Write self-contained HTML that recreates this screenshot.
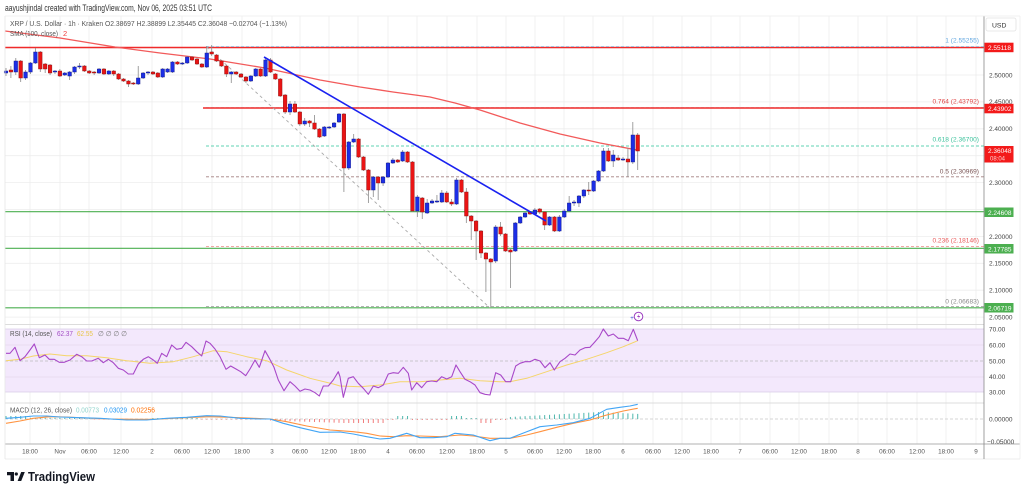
<!DOCTYPE html>
<html><head><meta charset="utf-8"><style>
html,body{margin:0;padding:0;background:#fff;}
svg{display:block;font-family:"Liberation Sans",sans-serif;}
</style></head><body>
<svg id="c" width="1024" height="493" viewBox="0 0 1024 493" xmlns="http://www.w3.org/2000/svg">
<rect x="0" y="0" width="1024" height="493" fill="#fff"/>
<g id="grid"></g>
<rect x="5" y="329" width="979" height="63" fill="#f3e8fc"/>
<line x1="5" y1="329" x2="984" y2="329" stroke="#d9cbe6" stroke-width="0.8"/>
<line x1="5" y1="392" x2="984" y2="392" stroke="#d9cbe6" stroke-width="0.8"/>
<line x1="5" y1="345" x2="984" y2="345" stroke="#e4d8ee" stroke-width="0.7"/>
<line x1="5" y1="377" x2="984" y2="377" stroke="#e4d8ee" stroke-width="0.7"/>
<line x1="5" y1="361" x2="984" y2="361" stroke="#bbb" stroke-width="0.8" stroke-dasharray="3,2"/>
<line x1="5" y1="419" x2="984" y2="419" stroke="#c8c8c8" stroke-width="0.8" stroke-dasharray="3,2"/>
<g id="levels"></g>
<g id="series"></g>
<!-- frame / separators -->
<line x1="5" y1="324.5" x2="984" y2="324.5" stroke="#dcdcdc" stroke-width="1"/>
<line x1="5" y1="403" x2="984" y2="403" stroke="#dcdcdc" stroke-width="1"/>
<line x1="5" y1="444" x2="1020" y2="444" stroke="#999" stroke-width="0.8"/>
<line x1="5" y1="459" x2="1020" y2="459" stroke="#e6e6e6" stroke-width="0.8"/>
<line x1="984" y1="16" x2="984" y2="459" stroke="#888" stroke-width="0.8"/>
<line x1="5" y1="16" x2="5" y2="459" stroke="#e6e6e6" stroke-width="0.8"/>
<line x1="5" y1="16" x2="1020" y2="16" stroke="#eee" stroke-width="0.8"/>
<line x1="1020" y1="16" x2="1020" y2="459" stroke="#eee" stroke-width="0.8"/>

<!-- header -->
<text x="5" y="10.8" font-size="9" fill="#333" textLength="207" lengthAdjust="spacingAndGlyphs">aayushjindal created with TradingView.com, Nov 06, 2025 03:51 UTC</text>
<text x="10" y="26" font-size="7.5" fill="#555" textLength="277" lengthAdjust="spacingAndGlyphs">XRP / U.S. Dollar · 1h · Kraken  O2.38697  H2.38899  L2.35445  C2.36048  −0.02704 (−1.13%)</text>
<text x="10" y="36" font-size="7.5" fill="#555" textLength="48" lengthAdjust="spacingAndGlyphs">SMA (100, close)</text>
<text x="63" y="36" font-size="7.5" fill="#f04040">2</text>

<!-- fib labels -->
<g font-size="6.6" text-anchor="end">
<text x="979" y="42.5" fill="#64a8e0">1 (2.55255)</text>
<text x="979" y="103.5" fill="#e04848">0.764 (2.43792)</text>
<text x="979" y="141.5" fill="#3cc29c">0.618 (2.36700)</text>
<text x="979" y="173.5" fill="#7a5555">0.5 (2.30969)</text>
<text x="979" y="242.5" fill="#e85a5a">0.236 (2.18146)</text>
<text x="979" y="303.5" fill="#8a8a8a">0 (2.06683)</text>
</g>

<!-- right axis labels -->
<g font-size="6.5" fill="#444">
<text x="989" y="77.3">2.50000</text>
<text x="989" y="104.2">2.45000</text>
<text x="989" y="131.1">2.40000</text>
<text x="989" y="185">2.30000</text>
<text x="989" y="238.8">2.20000</text>
<text x="989" y="265.7">2.15000</text>
<text x="989" y="292.6">2.10000</text>
<text x="989" y="319.5">2.05000</text>
<text x="989" y="331.5">70.00</text>
<text x="989" y="347.4">60.00</text>
<text x="989" y="363.3">50.00</text>
<text x="989" y="379">40.00</text>
<text x="989" y="394.5">30.00</text>
<text x="989" y="421.3">0.00000</text>
<text x="987" y="444">−0.05000</text>
</g>
<rect x="986" y="18" width="30" height="13" fill="#fff" stroke="#e2e2e2" stroke-width="0.8" rx="2"/>
<text x="992" y="27.3" font-size="6.8" fill="#333">USD</text>
<g font-size="6.5" fill="#fff">
<rect x="984.5" y="42.7" width="29" height="9.5" fill="#f31a1a"/>
<text x="988" y="50">2.55118</text>
<rect x="984.5" y="103.8" width="29" height="9.5" fill="#f31a1a"/>
<text x="988" y="111">2.43902</text>
<rect x="984.5" y="146" width="29" height="16.5" fill="#f31a1a"/>
<text x="988" y="153">2.36048</text>
<text x="990" y="160.5" font-size="6" fill="#ffd0d0">08:04</text>
<rect x="984.5" y="207.5" width="29" height="9.5" fill="#4caf50"/>
<text x="988" y="214.8">2.24608</text>
<rect x="984.5" y="244" width="29" height="9.5" fill="#4caf50"/>
<text x="988" y="251.3">2.17785</text>
<rect x="984.5" y="303" width="29" height="9.5" fill="#4caf50"/>
<text x="988" y="310.3">2.06719</text>
</g>

<!-- indicator legends -->
<g font-size="7">
<text x="10" y="336" fill="#555" textLength="42" lengthAdjust="spacingAndGlyphs">RSI (14, close)</text>
<text x="57" y="336" fill="#a24bc4" textLength="16" lengthAdjust="spacingAndGlyphs">62.37</text>
<text x="77" y="336" fill="#e8c547" textLength="16" lengthAdjust="spacingAndGlyphs">62.55</text>
<text x="98" y="336" fill="#777" textLength="29" lengthAdjust="spacingAndGlyphs">∅ ∅ ∅ ∅</text>
<text x="10" y="412.5" fill="#555" textLength="62" lengthAdjust="spacingAndGlyphs">MACD (12, 26, close)</text>
<text x="76" y="412.5" fill="#8fd3cb" textLength="23" lengthAdjust="spacingAndGlyphs">0.00773</text>
<text x="104" y="412.5" fill="#2196f3" textLength="23" lengthAdjust="spacingAndGlyphs">0.03029</text>
<text x="131" y="412.5" fill="#ff6d00" textLength="24" lengthAdjust="spacingAndGlyphs">0.02256</text>
</g>

<!-- time axis -->
<g font-size="6.3" fill="#555" text-anchor="middle">
<text x="30" y="453.3">18:00</text><text x="60" y="453.3">Nov</text><text x="89" y="453.3">06:00</text><text x="121" y="453.3">12:00</text>
<text x="152" y="453.3">2</text><text x="182" y="453.3">06:00</text><text x="212" y="453.3">12:00</text><text x="242" y="453.3">18:00</text>
<text x="272" y="453.3">3</text><text x="300" y="453.3">06:00</text><text x="329" y="453.3">12:00</text><text x="358" y="453.3">18:00</text>
<text x="388" y="453.3">4</text><text x="417" y="453.3">06:00</text><text x="447" y="453.3">12:00</text><text x="477" y="453.3">18:00</text>
<text x="506" y="453.3">5</text><text x="535" y="453.3">06:00</text><text x="564" y="453.3">12:00</text><text x="593" y="453.3">18:00</text>
<text x="623" y="453.3">6</text><text x="653" y="453.3">06:00</text><text x="682" y="453.3">12:00</text><text x="711" y="453.3">18:00</text>
<text x="740" y="453.3">7</text><text x="770" y="453.3">06:00</text><text x="799" y="453.3">12:00</text><text x="829" y="453.3">18:00</text>
<text x="858" y="453.3">8</text><text x="887" y="453.3">06:00</text><text x="917" y="453.3">12:00</text><text x="946" y="453.3">18:00</text>
<text x="976" y="453.3">9</text>
</g>

<!-- alert icon -->
<circle cx="638.5" cy="316.5" r="4.3" fill="#fff" stroke="#9c3fc0" stroke-width="1"/>
<path d="M639.5,313.5 L637,317 L639,317 L637.5,319.8 L640.3,316 L638.4,316 Z" fill="#9c3fc0"/>
<text x="632" y="320" font-size="6" fill="#3f51d8" text-anchor="middle">+</text>

<!-- TradingView logo -->
<path d="M7,472 H14 V481 H10.5 V475.2 H7 Z" fill="#131722"/>
<circle cx="16.3" cy="474" r="1.6" fill="#131722"/>
<path d="M17.6,481 L21.2,472 H24.8 L21.2,481 Z" fill="#131722"/>
<text x="28" y="481" font-size="12.5" font-weight="bold" fill="#131722" textLength="67" lengthAdjust="spacingAndGlyphs">TradingView</text>
</svg>
<script>
(function(){
var NS='http://www.w3.org/2000/svg';
function el(tag,a,p){var e=document.createElementNS(NS,tag);for(var k in a)e.setAttribute(k,a[k]);p.appendChild(e);return e;}
var grid=document.getElementById('grid'),lev=document.getElementById('levels'),ser=document.getElementById('series');
var vx=[30,60,89,121,152,182,212,242,272,300,329,358,388,417,447,477,506,535,564,593,623,653,682,711,740,770,799,829,858,887,917,946,976];
vx.forEach(function(x){el('line',{x1:x,y1:16,x2:x,y2:444,stroke:'#ededed','stroke-width':0.8},grid);});
function py(p){return 75+(2.5-p)*538;}
[2.55,2.5,2.45,2.4,2.35,2.3,2.25,2.2,2.15,2.1,2.05].forEach(function(p){var y=py(p);el('line',{x1:5,y1:y,x2:984,y2:y,stroke:'#ededed','stroke-width':0.8},grid);});
function hl(y,x1,c,w,d){var a={x1:x1,y1:y,x2:984,y2:y,stroke:c,'stroke-width':w};if(d)a['stroke-dasharray']=d;el('line',a,lev);}
hl(47.5,5,'#f02a2a',1.4);
hl(108,203,'#f02a2a',1.4);
hl(211.7,5,'#4caf50',1.1);
hl(248.3,5,'#4caf50',1.1);
hl(307.8,5,'#4caf50',1.1);
hl(46.6,206,'#9ab8d8',0.9,'3,2');
hl(107.4,206,'#e86060',0.9,'3,2');
hl(146,206,'#5fd3b3',0.9,'3,2');
hl(176.8,206,'#a48080',0.9,'3,2');
hl(246.5,206,'#f2a6a6',0.9,'3,2');
hl(306.6,206,'#a8a8a8',0.9,'3,2');
el('line',{x1:207,y1:47,x2:490,y2:308,stroke:'#aaa','stroke-width':0.9,'stroke-dasharray':'3,3'},lev);
function pl(pts,attrs,p){var a={points:pts.map(function(q){return q[0].toFixed(1)+','+q[1].toFixed(1);}).join(' '),fill:'none','stroke-linejoin':'round'};for(var k in attrs)a[k]=attrs[k];el('polyline',a,p);}
pl([[5,31],[60,38],[115,47],[160,53],[210,59],[265,68],[320,80],[360,87],[393,92],[430,97],[455,103],[480,110],[520,123],[560,134],[600,143],[637,150]],{stroke:'#f25a5a','stroke-width':1.3},ser);
var C=[
['b',71,73,68,76],['r',70,72,66,78],['b',61,72,58,75],['r',61,78,60,82],['b',72,78,70,80],['b',63,72,62,74],['b',52,63,48,64],['r',52,69,51,72],['r',64,69,63,73],['r',65,73,64,75],
['b',71,72,70,74],['r',71,76,69,77],['b',73,75,72,76],['b',72,76,71,80],['b',67,72,66,74],['b',66,67,63,69],['r',66,71,65,72],['r',71,73,70,74],['r',72,73,71,75],['b',69,73,68,74],
['r',69,74,68,75],['b',71,74,70,75],['r',71,74,70,76],['r',74,79,73,80],['r',79,81,78,82],['r',81,84,80,87],['r',83,84,82,85],['b',78,84,66,85],['b',73,78,72,79],['b',72,73,71,75],
['r',72,74,71,75],['r',73,77,72,78],['b',69,77,68,78],['b',69,72,68,73],['b',62,72,61,73],['r',62,64,61,65],['b',63,64,62,65],['b',57,63,56,64],['r',57,60,56,61],['r',59,64,58,65],
['r',64,67,63,68],['b',53,67,46,68],['r',52,54,45,56],['r',55,61,54,62],['r',61,66,60,67],['r',66,74,65,77],['b',72,74,71,83],['r',72,74,71,75],['r',74,77,73,78],['r',77,81,76,83],
['b',76,81,75,82],['b',69,76,68,77],['r',69,76,68,77],['b',60,76,58,77],['r',60,72,58,73],['r',74,79,73,80],['r',79,96,78,97],['r',95,112,94,114],['b',104,112,101,115],['r',104,112,101,113],
['r',112,124,111,126],['b',121,124,118,126],['r',121,123,120,127],['r',123,129,115,130],['r',129,137,128,138],['b',127,136,126,137],['b',127,128,126,129],['b',123,127,122,128],['b',114,122,113,123],['r',114,168,113,192],
['b',142,168,141,170],['b',139,142,134,143],['r',139,157,138,158],['r',157,170,156,171],['r',170,190,169,203],['b',177,190,176,197],['r',177,183,176,200],['b',177,183,176,186],['b',163,177,162,178],['b',160,163,158,164],
['r',160,162,159,163],['b',152,161,150,162],['r',152,162,151,163],['r',162,211,161,212],['b',197,211,195,217],['r',198,212,197,219],['b',203,213,199,214],['b',201,203,199,204],['b',201,202,195,203],['b',193,202,190,203],
['r',193,202,191,203],['r',202,204,199,206],['b',180,204,178,205],['r',180,192,179,193],['r',192,216,188,223],['r',216,221,215,240],['r',221,231,220,260],['r',231,253,230,258],['r',253,259,252,292],['r',259,262,258,307],
['b',227,261,225,263],['r',227,234,222,236],['r',234,251,233,252],['r',250,252,249,288],['b',223,251,222,252],['b',217,223,216,224],['b',213,217,212,218],['r',212,214,211,215],['b',210,214,208,215],['r',209,212,208,214],
['r',212,225,211,230],['b',217,225,216,226],['r',217,231,216,232],['b',217,231,215,232],['b',211,217,209,218],['b',203,211,196,212],['b',202,203,200,206],['b',196,203,195,207],['b',190,196,189,198],['r',190,191,182,195],
['b',181,191,180,192],['b',171,181,170,182],['b',151,171,148,172],['r',151,161,148,162],['b',155,161,150,167],['r',158,160,155,161],['b',159,160,157,161],['r',159,162,148,177],['b',135,162,122,164],['r',135,151,133,170]
];
var cg=el('g',{},ser);
C.forEach(function(c,i){
 var x=6+i*4.897;
 el('line',{x1:x,y1:c[3],x2:x,y2:c[4],stroke:'#8a8a8a','stroke-width':0.8},cg);
 var h=Math.max(1,c[2]-c[1]);
 el('rect',{x:(x-1.8).toFixed(2),y:c[1],width:3.6,height:h,fill:c[0]=='b'?'#1c2ee6':'#ea1414',stroke:c[0]=='b'?'#10188a':'#8a1010','stroke-width':0.45},cg);
});
el('line',{x1:264,y1:57,x2:546,y2:221,stroke:'#1a22f0','stroke-width':1.6},ser);
function m5(p){return [p[0]/3,310+p[1]/3];}
function m6(p){return [340+p[0]/3,310+p[1]/3];}
var r5=[[18,130],[30,130],[45,112],[60,152],[75,140],[90,120],[103,102],[118,143],[135,135],[148,148],[163,148],[178,157],[193,157],[210,150],[230,133],[245,140],[260,153],[275,153],[295,145],[310,158],[325,148],[340,158],[355,175],[370,180],[385,192],[400,192],[415,162],[430,148],[445,140],[460,150],[472,160],[485,130],[500,140],[515,105],[530,118],[545,115],[558,97],[575,110],[590,125],[605,138],[618,93],[630,100],[645,117],[660,140],[678,178],[692,168],[708,177],[722,185],[737,197],[750,177],[765,150],[778,172],[795,122],[808,145],[822,172],[835,210],[852,242],[870,215],[885,228],[900,244],[915,237],[930,240],[945,248],[958,258],[970,228],[985,228],[1000,210],[1015,185]];
var r6=[[0,200],[10,262],[25,205],[40,200],[55,220],[70,235],[85,253],[100,228],[115,233],[130,225],[145,192],[160,188],[175,190],[190,172],[205,190],[215,240],[230,218],[245,233],[260,215],[275,213],[290,215],[305,200],[320,207],[335,200],[348,165],[360,185],[375,208],[390,215],[405,225],[420,248],[435,253],[450,255],[467,188],[482,195],[497,215],[512,215],[527,168],[540,160],[555,155],[570,155],[585,148],[600,153],[615,173],[630,158],[643,180],[660,155],[675,145],[690,132],[705,135],[720,120],[735,113],[750,112],[765,95],[778,80],[790,57],[805,78],[820,72],[835,85],[850,85],[865,92],[880,58],[893,92]];
var y5=[[18,152],[60,148],[100,138],[150,132],[200,137],[260,137],[320,143],[380,152],[450,160],[520,155],[580,140],[640,122],[680,125],[740,140],[800,152],[860,180],[930,205],[1000,222],[1020,228]];
var y6=[[0,228],[60,230],[120,225],[180,215],[240,215],[300,210],[360,205],[420,212],[480,215],[510,215],[560,205],[620,185],[680,165],[740,148],[800,128],[850,110],[893,92]];
pl(y5.map(m5).concat(y6.map(m6)),{stroke:'#f5d56a','stroke-width':1},ser);
pl(r5.map(m5).concat(r6.map(m6)),{stroke:'#a848c8','stroke-width':1.1},ser);
function hv(x){
 if(x<30)return 3; if(x<90)return 1.2; if(x<150)return -0.7; if(x<200)return 1; if(x<270)return -0.6;
 if(x<340)return -1.5-(x-270)/30; if(x<385)return -4; if(x<396)return -1; if(x<412)return 3; if(x<450)return -1;
 if(x<466)return 3; if(x<478)return 1; if(x<495)return -4; if(x<510)return -1;
 if(x<600)return 2+(x-510)/18; return 7-(x-600)/20;
}
var hg=el('g',{},ser);
for(var i=0;i<130;i++){var x=6+i*4.897,v=hv(x);
 if(Math.abs(v)<0.3)continue;
 el('rect',{x:(x-0.5).toFixed(2),y:v>0?419-v:419,width:1,height:Math.abs(v),fill:v>0?'#4db6ac':'#f07c7c'},hg);}
var b5=[[18,325],[60,322],[100,318],[140,318],[180,321],[240,323],[300,325],[380,330],[440,330],[500,325],[560,322],[620,317],[660,318],[720,325],[780,327],[810,327],[850,340],[900,353],[960,367],[1020,366]];
var o5=[[18,340],[60,333],[100,325],[150,320],[200,321],[260,324],[330,327],[400,328],[460,328],[520,325],[580,322],[630,320],[690,322],[760,325],[810,327],[860,335],[920,348],[990,360],[1020,362]];
var b6=[[0,366],[40,372],[80,380],[120,387],[150,385],[200,370],[240,383],[280,383],[320,380],[345,370],[400,375],[450,392],[480,385],[510,385],[560,365],[600,350],[650,345],[700,338],[750,325],[800,298],[840,292],[870,288],[893,283]];
var o6=[[0,362],[40,365],[80,370],[120,378],[160,380],[200,377],[240,378],[300,380],[360,375],[400,378],[450,385],[510,385],[560,375],[600,365],[650,352],[700,340],[750,330],[800,315],[850,303],[893,295]];
pl(o5.map(m5).concat(o6.map(m6)),{stroke:'#ff9340','stroke-width':1.1},ser);
pl(b5.map(m5).concat(b6.map(m6)),{stroke:'#42a5f5','stroke-width':1.1},ser);
})();
</script>
</body></html>
